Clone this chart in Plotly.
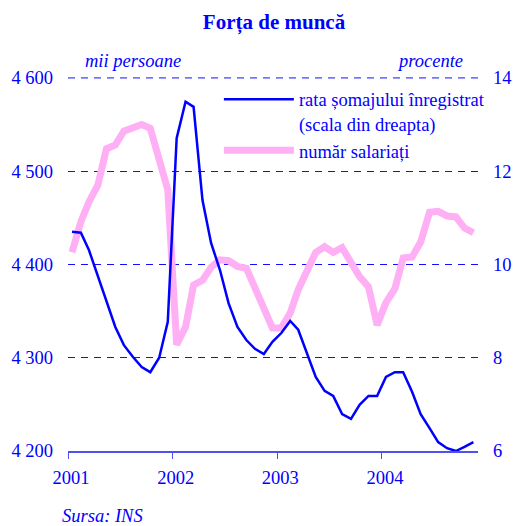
import plotly.graph_objects as go

# monthly observations, Jan 2001 - Nov 2004 (mid-month dates)
months = [f"{y}-{m:02d}-15" for y in range(2001, 2005) for m in range(1, 13)][:47]

# registered unemployment rate, % (right scale)
unemployment = [10.70, 10.68, 10.31, 9.75, 9.17, 8.66, 8.27, 8.02, 7.80, 7.69, 8.00, 8.77,
                12.71, 13.49, 13.38, 11.38, 10.46, 9.88, 9.17, 8.66, 8.38, 8.19, 8.08, 8.34,
                8.53, 8.79, 8.60, 8.10, 7.59, 7.29, 7.18, 6.79, 6.69, 6.99, 7.18, 7.18,
                7.59, 7.69, 7.69, 7.27, 6.79, 6.49, 6.19, 6.06, 6.00, 6.09, 6.19]

# number of employees, thousand persons (left scale)
employees = [4413, 4446, 4467, 4485, 4524, 4528, 4543, 4547, 4550, 4546, 4509, 4480,
             4314, 4333, 4378, 4383, 4397, 4405, 4404, 4398, 4396, 4376, 4351, 4332,
             4332, 4348, 4373, 4394, 4413, 4419, 4413, 4418, 4402, 4387, 4376, 4335,
             4359, 4374, 4407, 4408, 4424, 4456, 4457, 4452, 4451, 4439, 4434]

left_ticks = [4200, 4300, 4400, 4500, 4600]
left_labels = ["4 200", "4 300", "4 400", "4 500", "4 600"]
right_ticks = [6, 8, 10, 12, 14]

BLUE = "#0000FF"
GRID = "#1010FF"
FONT = "Liberation Serif, Times New Roman, serif"

fig = go.Figure()
fig.add_trace(go.Scatter(x=months, y=unemployment, yaxis="y2", mode="lines",
                         name="rata șomajului înregistrat<br>(scala din dreapta)",
                         line=dict(color=BLUE, width=2.5)))
fig.add_trace(go.Scatter(x=months, y=employees, mode="lines",
                         name="număr salariați",
                         line=dict(color="#FFB0F4", width=7)))

fig.update_layout(
    width=515, height=526,
    margin=dict(l=68, r=37, t=77, b=75),
    plot_bgcolor="white", paper_bgcolor="white",
    font=dict(family=FONT, size=18.5, color=BLUE),
    title=dict(text="<b>Forța de muncă</b>", x=0.532, xanchor="center",
               y=0.958, yanchor="middle", font=dict(size=21, color=BLUE)),
    showlegend=True,
    legend=dict(x=0.368, y=0.99, xanchor="left", yanchor="top", valign="top",
                bgcolor="rgba(0,0,0,0)", itemwidth=70,
                font=dict(family=FONT, size=18.5, color=BLUE)),
    xaxis=dict(type="date", range=["2001-01-01", "2004-12-01"],
               tick0="2001-01-01", dtick="M12", tickformat="%Y",
               ticks="outside", ticklen=6, tickcolor="#5050F0",
               showline=True, linecolor="#5050F0", linewidth=1.5,
               showgrid=False, zeroline=False, automargin=False,
               ticklabelshift=3, ticklabelstandoff=3),
    yaxis=dict(range=[4200, 4601], tickvals=left_ticks, ticktext=left_labels,
               showgrid=True, gridcolor=GRID, gridwidth=1, griddash="7px,6px",
               zeroline=False, showline=False, ticks="", ticklabelstandoff=14,
               automargin=False),
    yaxis2=dict(range=[6, 14.02], tickvals=right_ticks, overlaying="y", side="right",
                showgrid=False, zeroline=False, showline=False, ticks="",
                ticklabelstandoff=14, automargin=False),
)

# plotly leaves out the gridline at the top edge, so draw that one explicitly
fig.add_shape(type="line", xref="paper", x0=0, x1=1, yref="y",
              y0=left_ticks[-1], y1=left_ticks[-1], layer="below",
              line=dict(color=GRID, width=1, dash="7px,6px"))

fig.add_annotation(text="<i>mii persoane</i>", xref="paper", yref="paper",
                   x=(133 - 68) / 410, y=1 + 16 / 374, showarrow=False,
                   xanchor="center", yanchor="middle")
fig.add_annotation(text="<i>procente</i>", xref="paper", yref="paper",
                   x=(430 - 68) / 410, y=1 + 16 / 374, showarrow=False,
                   xanchor="center", yanchor="middle")
fig.add_annotation(text="<i>Sursa: INS</i>", xref="paper", yref="paper",
                   x=(60 - 68) / 410, y=-(65 / 374), showarrow=False,
                   xanchor="left", yanchor="middle")

# drop the default 8px page margin so the figure sits at the window's corner
fig.write_html("out.html", config={"displayModeBar": False},
               post_script="document.body.style.margin='0';")
